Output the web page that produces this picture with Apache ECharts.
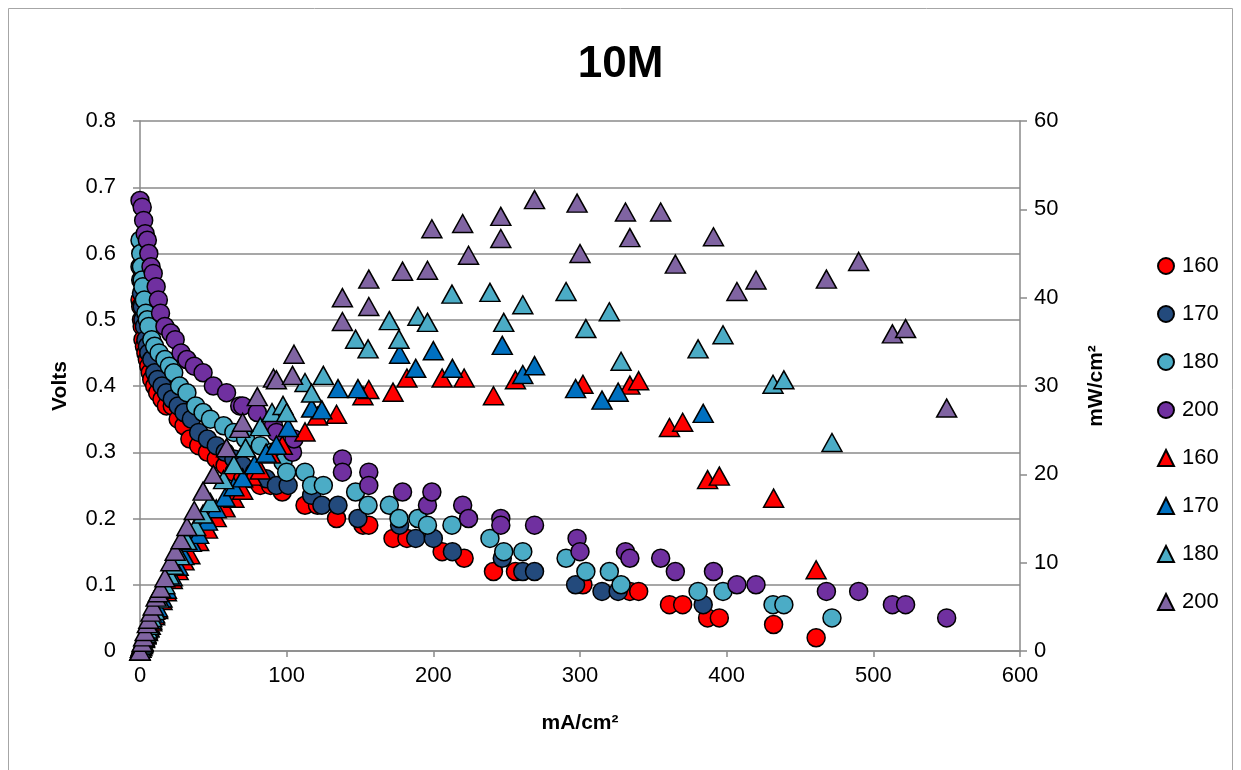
<!DOCTYPE html>
<html><head><meta charset="utf-8">
<script src="https://cdn.jsdelivr.net/npm/echarts@6/dist/echarts.min.js"></script>
<style>html,body{margin:0;padding:0;background:#fff}#c{width:1241px;height:770px}</style>
</head><body><div id="c"></div><script>
// Title / axis names
const titleText = '10M';
const xName = 'mA/cm²';
const yLeftName = 'Volts';
const yRightName = 'mW/cm²';
const legendNames = ['160','170','180','200','160','170','180','200'];

// Voltage (circles) [mA/cm², V]
const v160 = [[0,0.53],[0.5,0.52],[1,0.50],[1.5,0.49],[2,0.47],[3,0.46],[4,0.45],[5,0.44],[6,0.43],[7,0.42],[8,0.41],[10,0.40],[12,0.39],[15,0.38],[18,0.37],[22,0.37],[26,0.35],[30,0.34],[34,0.32],[40,0.31],[46,0.30],[52,0.29],[58,0.28],[64,0.27],[70,0.26],[76,0.26],[82,0.25],[89,0.25],[97,0.24],[112.5,0.22],[121,0.22],[134,0.20],[152,0.19],[156,0.19],[172.5,0.17],[182,0.17],[206,0.15],[221,0.14],[241,0.12],[256,0.12],[302,0.10],[334,0.09],[340,0.09],[361,0.07],[370,0.07],[387,0.05],[395,0.05],[432,0.04],[461,0.02]];
const v170 = [[0,0.58],[0.5,0.56],[1,0.54],[1.5,0.52],[2,0.50],[3,0.49],[4,0.47],[5,0.46],[6,0.45],[8,0.44],[10,0.42],[12,0.41],[15,0.40],[18,0.39],[22,0.38],[26,0.37],[30,0.36],[35,0.35],[40,0.33],[46,0.32],[52,0.31],[58,0.30],[64,0.29],[70,0.28],[78,0.27],[86,0.26],[93,0.25],[101,0.25],[117,0.235],[124,0.22],[135,0.22],[148.6,0.20],[177,0.19],[188,0.17],[200,0.17],[213,0.15],[247,0.14],[261,0.12],[269,0.12],[297,0.10],[315,0.09],[326,0.09],[384,0.07]];
const v180 = [[0,0.62],[0.5,0.60],[1,0.58],[1.5,0.56],[2,0.55],[3,0.53],[4,0.51],[5,0.50],[6,0.49],[8,0.47],[10,0.46],[13,0.45],[17,0.44],[20,0.43],[23,0.42],[27,0.40],[32,0.39],[38,0.37],[43,0.36],[48,0.35],[57,0.34],[64,0.33],[72,0.32],[82,0.31],[90,0.30],[97.5,0.285],[100,0.27],[112.5,0.27],[117,0.25],[125,0.25],[147,0.24],[155.5,0.22],[170,0.22],[176.6,0.20],[189.5,0.20],[196,0.19],[212.7,0.19],[238.6,0.17],[248,0.15],[261,0.15],[290.5,0.14],[304,0.12],[320,0.12],[328,0.10],[380.5,0.09],[397.5,0.09],[431.6,0.07],[439,0.07],[471.8,0.05]];
const v200 = [[0,0.68],[1.5,0.67],[2.5,0.65],[3.5,0.63],[5,0.62],[6,0.60],[7.5,0.58],[9,0.57],[11,0.55],[12.5,0.53],[14,0.51],[17,0.49],[21,0.48],[24,0.47],[28,0.45],[32,0.44],[37,0.43],[43,0.42],[50,0.40],[59,0.39],[68,0.37],[70,0.37],[80,0.36],[91,0.34],[93,0.33],[104,0.30],[105,0.32],[138,0.29],[138,0.27],[156,0.27],[156,0.25],[179,0.24],[196,0.22],[199,0.24],[220,0.22],[224,0.20],[246,0.20],[246,0.19],[269,0.19],[298,0.17],[300,0.15],[331,0.15],[334,0.14],[355,0.14],[365,0.12],[391,0.12],[407,0.10],[420,0.10],[468,0.09],[490,0.09],[513,0.07],[522,0.07],[550,0.05]];

// Power density (triangles) [mA/cm², mW/cm²]
const p160 = [[0,0],[0.5,0.3],[1,0.5],[1.5,0.7],[2,0.9],[3,1.4],[4,1.8],[5,2.2],[6,2.6],[7,2.9],[8,3.3],[10,4.0],[12,4.7],[15,5.7],[18,6.7],[22,8.1],[26,9.1],[30,10.2],[34,10.9],[40,12.4],[46,13.8],[52,15.1],[58,16.2],[64,17.3],[70,18.2],[76,19.8],[82,20.5],[89,22.3],[97,23.3],[112.5,24.8],[121,26.6],[134,26.8],[152,28.9],[156,29.6],[172.5,29.3],[182,30.9],[206,30.9],[221,30.9],[241,28.9],[256,30.7],[302,30.2],[334,30.1],[340,30.6],[361,25.3],[370,25.9],[387,19.4],[395,19.8],[432,17.3],[461,9.2]];
const p170 = [[0,0],[0.5,0.3],[1,0.5],[1.5,0.8],[2,1.0],[3,1.5],[4,1.9],[5,2.3],[6,2.7],[8,3.5],[10,4.2],[12,4.9],[15,6.0],[18,7.0],[22,8.4],[26,9.6],[30,10.8],[35,12.3],[40,13.2],[46,14.7],[52,16.1],[58,17.4],[64,18.6],[70,19.6],[78,21.1],[86,22.4],[93,23.3],[101,25.3],[117,27.5],[124,27.3],[135,29.7],[148.6,29.7],[177,33.6],[188,32.0],[200,34.0],[213,32.0],[247,34.6],[261,31.3],[269,32.3],[297,29.7],[315,28.4],[326,29.3],[384,26.9]];
const p180 = [[0,0],[0.5,0.3],[1,0.6],[1.5,0.8],[2,1.1],[3,1.6],[4,2.0],[5,2.5],[6,2.9],[8,3.8],[10,4.6],[13,5.9],[17,7.5],[20,8.6],[23,9.7],[27,10.8],[32,12.5],[38,14.1],[43,15.5],[48,16.8],[57,19.4],[64,21.1],[72,23.0],[82,25.4],[90,27.0],[97.5,27.8],[100,27.0],[112.5,30.4],[117,29.2],[125,31.2],[147,35.3],[155.5,34.2],[170,37.4],[176.6,35.3],[189.5,37.9],[196,37.2],[212.7,40.4],[238.6,40.6],[248,37.2],[261,39.2],[290.5,40.7],[304,36.5],[320,38.4],[328,32.8],[380.5,34.2],[397.5,35.8],[431.6,30.2],[439,30.7],[471.8,23.6]];
const p200 = [[0,0],[1.5,1.0],[2.5,1.6],[3.5,2.2],[5,3.1],[6,3.6],[7.5,4.4],[9,5.1],[11,6.1],[12.5,6.6],[14,7.1],[17,8.3],[21,10.1],[24,11.3],[28,12.6],[32,14.1],[37,15.9],[43,18.1],[50,20.0],[59,23.0],[68,25.2],[70,25.9],[80,28.8],[91,30.9],[93,30.7],[104,31.2],[105,33.6],[138,40.0],[138,37.3],[156,42.1],[156,39.0],[179,43.0],[196,43.1],[199,47.8],[220,48.4],[224,44.8],[246,49.2],[246,46.7],[269,51.1],[298,50.7],[300,45.0],[331,49.7],[334,46.8],[355,49.7],[365,43.8],[391,46.9],[407,40.7],[420,42.0],[468,42.1],[490,44.1],[513,35.9],[522,36.5],[550,27.5]];

const FONT = '"Liberation Sans", Arial, sans-serif';
const gridColor = '#8a8a8a';

function sc(id, data, sym, color, yi, z) {
  return {
    name: id, type: 'scatter', yAxisIndex: yi, data: data,
    symbol: sym, symbolSize: sym === 'circle' ? 18 : [20, 18],
    itemStyle: { color: color, borderColor: '#000', borderWidth: 1.5, opacity: 1 },
    emphasis: { disabled: true }, z: z, animation: false
  };
}

const chart = echarts.init(document.getElementById('c'), null, { renderer: 'canvas' });
chart.setOption({
  animation: false,
  backgroundColor: '#fff',
  graphic: [{ type: 'rect', shape: { x: 8.5, y: 8.5, width: 1224, height: 800 },
    style: { fill: 'none', stroke: '#a6a6a6', lineWidth: 1 }, z: -10 }],
  title: { text: titleText, left: 'center', top: 38,
    textStyle: { fontFamily: FONT, fontSize: 44, fontWeight: 'bold', color: '#000' } },
  grid: { left: 140, right: 221, top: 121, bottom: 119, containLabel: false },
  legend: {
    orient: 'vertical', left: 1152, top: 250, itemWidth: 16, itemHeight: 16, itemGap: 26,
    data: ['c160','c170','c180','c200','t160','t170','t180','t200'],
    formatter: function (n) { return n.slice(1); },
    textStyle: { fontFamily: FONT, fontSize: 22, color: '#000', padding: [0,0,0,3] },
    selectedMode: false
  },
  xAxis: {
    type: 'value', min: 0, max: 600, interval: 100,
    name: xName, nameLocation: 'middle', nameGap: 62,
    nameTextStyle: { fontFamily: FONT, fontSize: 21, fontWeight: 'bold', color: '#000' },
    axisLine: { show: true, onZero: false, lineStyle: { color: gridColor, width: 1.5 } },
    axisTick: { show: true, inside: false, length: 6, lineStyle: { color: gridColor, width: 1.5 } },
    axisLabel: { fontFamily: FONT, fontSize: 22, color: '#000', margin: 14 },
    splitLine: { show: false }
  },
  yAxis: [{
    type: 'value', min: 0, max: 0.8, interval: 0.1, position: 'left',
    name: yLeftName, nameLocation: 'middle', nameGap: 69, nameRotate: 90,
    nameTextStyle: { fontFamily: FONT, fontSize: 21, fontWeight: 'bold', color: '#000' },
    axisLine: { show: true, lineStyle: { color: gridColor, width: 1.5 } },
    axisTick: { show: true, inside: false, length: 7, lineStyle: { color: gridColor, width: 1.5 } },
    axisLabel: { fontFamily: FONT, fontSize: 22, color: '#000', margin: 24 },
    splitLine: { show: true, lineStyle: { color: gridColor, width: 1.5 } }
  }, {
    type: 'value', min: 0, max: 60, interval: 10, position: 'right',
    name: yRightName, nameLocation: 'middle', nameGap: 66, nameRotate: 90,
    nameTextStyle: { fontFamily: FONT, fontSize: 21, fontWeight: 'bold', color: '#000' },
    axisLine: { show: true, lineStyle: { color: gridColor, width: 1.5 } },
    axisTick: { show: true, inside: false, length: 7, lineStyle: { color: gridColor, width: 1.5 } },
    axisLabel: { fontFamily: FONT, fontSize: 22, color: '#000', margin: 14 },
    splitLine: { show: false }
  }],
  series: [
    sc('c160', v160, 'circle', '#FF0000', 0, 2),
    sc('c170', v170, 'circle', '#234A7C', 0, 3),
    sc('c180', v180, 'circle', '#4BACC6', 0, 4),
    sc('c200', v200, 'circle', '#7030A0', 0, 5),
    sc('t160', p160, 'triangle', '#FF0000', 1, 6),
    sc('t170', p170, 'triangle', '#0070C0', 1, 7),
    sc('t180', p180, 'triangle', '#4BACC6', 1, 8),
    sc('t200', p200, 'triangle', '#8064A2', 1, 9)
  ]
});
</script></body></html>
